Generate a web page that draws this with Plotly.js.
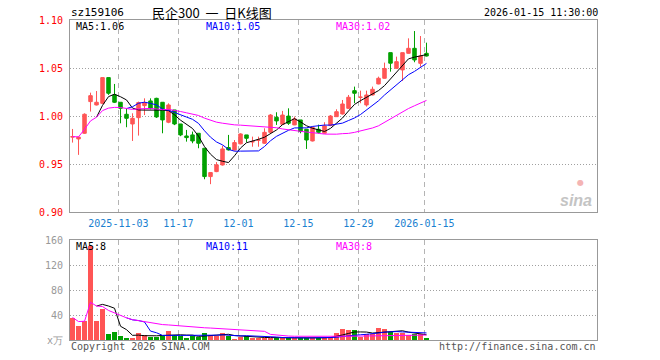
<!DOCTYPE html>
<html><head><meta charset="utf-8">
<script src="https://cdn.plot.ly/plotly-3.0.1.min.js"></script>
<style>html,body{margin:0;padding:0;background:#fff}#chart{width:660px;height:360px}</style>
</head><body><div id="chart"></div>
<script>
const dates = ['2025-10-22','2025-10-23','2025-10-24','2025-10-27','2025-10-28','2025-10-29','2025-10-30','2025-10-31',
 '2025-11-03','2025-11-04','2025-11-05','2025-11-06','2025-11-07','2025-11-10','2025-11-11','2025-11-12','2025-11-13','2025-11-14',
 '2025-11-17','2025-11-18','2025-11-19','2025-11-20','2025-11-21','2025-11-24','2025-11-25','2025-11-26','2025-11-27','2025-11-28',
 '2025-12-01','2025-12-02','2025-12-03','2025-12-04','2025-12-05','2025-12-08','2025-12-09','2025-12-10','2025-12-11','2025-12-12',
 '2025-12-15','2025-12-16','2025-12-17','2025-12-18','2025-12-19','2025-12-22','2025-12-23','2025-12-24','2025-12-25','2025-12-26',
 '2025-12-29','2025-12-30','2025-12-31','2026-01-05','2026-01-06','2026-01-07','2026-01-08','2026-01-09',
 '2026-01-12','2026-01-13','2026-01-14','2026-01-15'];
const openP = [0.9780,0.9761,0.9820,1.0150,1.0115,1.0132,1.0400,1.0220,1.0143,1.0018,
 0.9917,0.9983,1.0108,1.0157,1.0184,1.0143,0.9935,1.0063,0.9917,0.9792,
 0.9803,0.9820,0.9664,0.9369,0.9421,0.9490,0.9671,0.9646,0.9710,0.9803,
 0.9730,0.9748,0.9716,0.9830,0.9987,0.9914,0.9999,0.9907,0.9959,0.9862,
 0.9740,0.9862,0.9820,0.9900,0.9993,1.0021,1.0080,1.0264,1.0194,1.0115,
 1.0219,1.0334,1.0393,1.0660,1.0497,1.0480,1.0653,1.0705,1.0549,1.0653];
const highP = [0.9865,0.9785,1.0028,1.0243,1.0260,1.0400,1.0400,1.0334,1.0143,1.0080,
 1.0028,1.0150,1.0184,1.0184,1.0190,1.0143,1.0132,1.0063,0.9917,0.9855,
 0.9838,0.9820,0.9664,0.9411,0.9520,0.9690,0.9803,0.9750,0.9820,0.9803,
 0.9785,0.9785,0.9872,1.0020,1.0039,1.0053,1.0080,0.9994,0.9959,0.9862,
 0.9890,0.9910,0.9935,1.0010,1.0070,1.0167,1.0219,1.0306,1.0264,1.0264,
 1.0306,1.0410,1.0556,1.0660,1.0618,1.0660,1.0809,1.0885,1.0833,1.0764];
const lowP = [0.9723,0.9595,0.9813,1.0046,1.0110,1.0125,1.0220,1.0135,0.9924,0.9883,
 0.9740,0.9796,1.0010,1.0070,0.9980,0.9820,0.9925,0.9905,0.9790,0.9733,
 0.9716,0.9664,0.9341,0.9290,0.9415,0.9484,0.9640,0.9640,0.9705,0.9726,
 0.9680,0.9680,0.9710,0.9825,0.9907,0.9910,0.9907,0.9905,0.9820,0.9657,
 0.9735,0.9817,0.9815,0.9895,0.9990,1.0015,1.0075,1.0133,1.0133,1.0098,
 1.0215,1.0330,1.0390,1.0462,1.0490,1.0365,1.0650,1.0560,1.0514,1.0620];
const closeP = [0.9785,0.9780,1.0018,1.0212,1.0143,1.0400,1.0237,1.0143,1.0080,0.9976,
 0.9976,1.0140,1.0136,1.0080,0.9990,0.9959,1.0115,0.9917,0.9803,0.9775,
 0.9740,0.9716,0.9369,0.9411,0.9491,0.9657,0.9647,0.9723,0.9813,0.9768,
 0.9733,0.9750,0.9830,1.0010,0.9949,1.0010,0.9924,0.9970,0.9838,0.9750,
 0.9880,0.9830,0.9896,1.0000,1.0045,1.0125,1.0195,1.0237,1.0196,1.0219,
 1.0278,1.0393,1.0495,1.0550,1.0566,1.0660,1.0705,1.0584,1.0625,1.0625];
const volume = [36,23,31,151,31,49,10,13,7,3.7,
 3.7,11.7,8.5,4.8,4.8,6.4,14.9,8.5,6.9,2.7,
 5.9,4.8,11.7,8.5,6.9,11.7,6.9,1.6,4.8,6,
 3,3,3.5,4,3.5,3.5,3,3.5,3,3,
 4,3.5,4,5,11,17,15.5,15.5,5.5,10,
 9,19.5,18,12.5,12,12,8.5,9.5,9.5,2.6];
const tickDates = ['2025-11-03','2025-11-17','2025-12-01','2025-12-15','2025-12-29','2026-01-15'];
const tickLabels = ['2025-11-03','11-17','12-01','12-15','12-29','2026-01-15'];
const priceTicks = [0.90,0.95,1.00,1.05,1.10];
const priceTickLabels = ['0.90','0.95','1.00','1.05','1.10'];
const volTicks = [0,40,80,120,160];
const volTickLabels = ['x万','40','80','120','160'];
const priceMALabels = ['MA5:1.06','MA10:1.05','MA30:1.02'];
const volMALabels = ['MA5:8','MA10:11','MA30:8'];

const RED = '#ff5555', GREEN = '#00a000';
const MONO = 'DejaVu Sans Mono';
const xs = dates.map((d, i) => i);

function movingAvg(arr, n, partial) {
  return arr.map((v, i) => {
    if (i < n - 1 && !partial) return null;
    const s = Math.max(0, i - n + 1);
    const w = arr.slice(s, i + 1);
    return w.reduce((a, b) => a + b, 0) / w.length;
  });
}
const up = closeP.map((c, i) => c >= openP[i]);

const traces = [
  {type:'candlestick', x: xs, open: openP, high: highP, low: lowP, close: closeP,
   xaxis:'x', yaxis:'y', whiskerwidth:0, hoverinfo:'skip', showlegend:false,
   increasing:{line:{color:RED, width:1}, fillcolor:RED},
   decreasing:{line:{color:GREEN, width:1}, fillcolor:GREEN}},
  {type:'scatter', mode:'lines', x: xs, y: movingAvg(closeP,5,false), xaxis:'x', yaxis:'y', line:{color:'#000', width:1}, hoverinfo:'skip', showlegend:false},
  {type:'scatter', mode:'lines', x: xs, y: movingAvg(closeP,10,false), xaxis:'x', yaxis:'y', line:{color:'#0000ff', width:1}, hoverinfo:'skip', showlegend:false},
  {type:'scatter', mode:'lines', x: xs, y: movingAvg(closeP,30,true), xaxis:'x', yaxis:'y', line:{color:'#ff00ff', width:1}, hoverinfo:'skip', showlegend:false},
  {type:'bar', x: xs, y: volume, xaxis:'x2', yaxis:'y2', width:0.83,
   marker:{color: up.map(u => u ? RED : GREEN), line:{width:0}}, hoverinfo:'skip', showlegend:false},
  {type:'scatter', mode:'lines', x: xs, y: movingAvg(volume,5,false), xaxis:'x2', yaxis:'y2', line:{color:'#000', width:1}, hoverinfo:'skip', showlegend:false},
  {type:'scatter', mode:'lines', x: xs, y: movingAvg(volume,10,false), xaxis:'x2', yaxis:'y2', line:{color:'#0000ff', width:1}, hoverinfo:'skip', showlegend:false},
  {type:'scatter', mode:'lines', x: xs, y: movingAvg(volume,30,true), xaxis:'x2', yaxis:'y2', line:{color:'#ff00ff', width:1}, hoverinfo:'skip', showlegend:false}
];

const tickvals = tickDates.map(d => dates.indexOf(d) - 0.35);
const xr = [-0.42, 87.42];
const axBase = {showline:true, mirror:true, linecolor:'#999', linewidth:1, zeroline:false, fixedrange:true};

function px(x){ return (x - 70) / 527; }
function py(y){ return (340 - y) / 320; }
function ann(text, x, y, anchor, color, size, family, extra) {
  return Object.assign({text, x: px(x), y: py(y), xref:'paper', yref:'paper', xanchor: anchor, yanchor:'middle',
    showarrow:false, font:{family: family || MONO, size: size || 10, color: color || '#000'}}, extra || {});
}

const layout = {
  width:660, height:360, autosize:false,
  margin:{l:70, r:63, t:20, b:20},
  paper_bgcolor:'#fff', plot_bgcolor:'#fff',
  showlegend:false, hovermode:false, boxgap:0.17, bargap:0,
  xaxis: Object.assign({}, axBase, {domain:[0,1], anchor:'y', range:xr, tickmode:'array', tickvals, ticktext:tickLabels,
    tickfont:{family:MONO, size:10, color:'#1a7fd0'}, ticks:'', ticklabelstandoff:2,
    showgrid:true, gridcolor:'#b4b4b4', griddash:'5px,4px', gridwidth:1, rangeslider:{visible:false}}),
  yaxis: Object.assign({}, axBase, {domain:[0.4,1], anchor:'x', range:[0.9,1.1], tickmode:'array', tickvals:priceTicks, ticktext:priceTickLabels,
    tickfont:{family:MONO, size:10, color:'#ff0000'}, ticks:'', ticklabelstandoff:4,
    showgrid:true, gridcolor:'#a0a0a0', griddash:'1px,2px', gridwidth:1}),
  xaxis2: Object.assign({}, axBase, {domain:[0,1], anchor:'y2', range:xr, matches:'x', showticklabels:false, ticks:'',
    tickmode:'array', tickvals, showgrid:true, gridcolor:'#b4b4b4', griddash:'5px,4px', gridwidth:1}),
  yaxis2: Object.assign({}, axBase, {domain:[0,0.3125], anchor:'x2', range:[0,160], tickmode:'array', tickvals:volTicks, ticktext:volTickLabels,
    tickfont:{family:MONO, size:10, color:'#999'}, ticks:'', ticklabelstandoff:4,
    showgrid:true, gridcolor:'#a0a0a0', griddash:'1px,2px', gridwidth:1}),
  annotations: [
    ann('sz159106', 69, 12, 'left', '#000', 11),
    ann('民企300\u00a0\u00a0一\u00a0\u00a0日K线图', 150, 12, 'left', '#000', 13, 'Noto Sans CJK SC'),
    ann('2026-01-15 11:30:00', 600, 12, 'right', '#000', 10),
    ann(priceMALabels[0], 74, 27, 'left', '#000'),
    ann(priceMALabels[1], 204, 27, 'left', '#0000ff'),
    ann(priceMALabels[2], 334, 27, 'left', '#ff00ff'),
    ann(volMALabels[0], 74, 246, 'left', '#000'),
    ann(volMALabels[1], 204, 246, 'left', '#0000ff'),
    ann(volMALabels[2], 334, 246, 'left', '#ff00ff'),
    ann('Copyright 2026 SINA.COM', 69, 346, 'left', '#555'),
    ann('http://finance.sina.com.cn', 598, 346, 'right', '#555'),
    ann('sina', 576, 200, 'center', '#c4c4c4', 16, 'Liberation Sans', {font:{family:'Liberation Sans', size:16, color:'#c4c4c4', weight:'bold', style:'italic'}}),
    ann('●', 580, 182, 'center', '#f4b4b4', 8, 'DejaVu Sans')
  ]
};

Plotly.newPlot('chart', traces, layout, {displayModeBar:false, staticPlot:true});
</script></body></html>
